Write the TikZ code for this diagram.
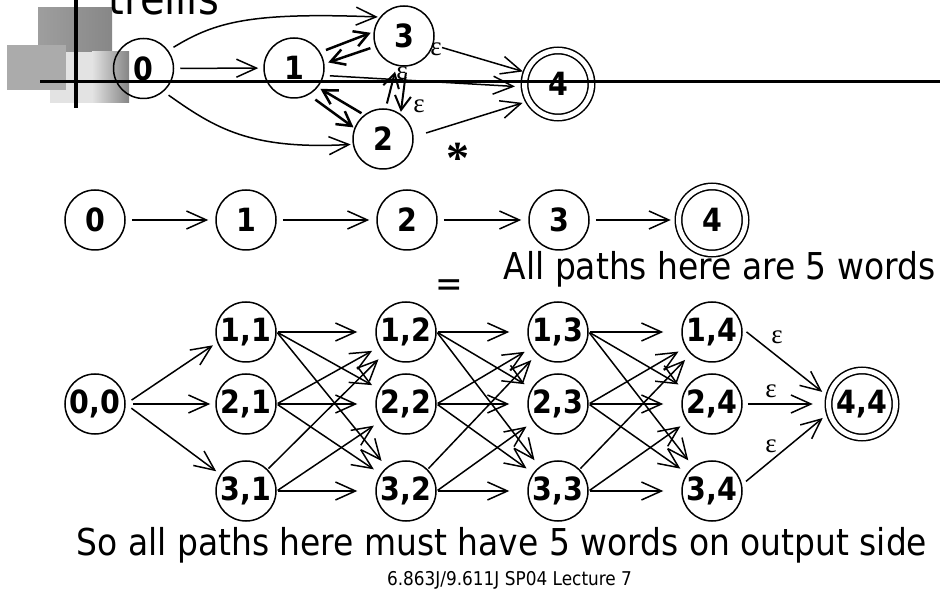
\documentclass[tikz,border=0pt]{standalone}
\usepackage{fontspec}
\setmainfont{DejaVu Sans}[FakeStretch=0.89]
\newfontfamily\epsfont{Liberation Serif}
\usetikzlibrary{arrows.meta}

\begin{document}
\begin{tikzpicture}[x=1pt, y=-1pt, line width=1.5pt,
    state/.style={draw, circle, minimum size=60pt, inner sep=0pt,
      font=\fontsize{32}{32}\selectfont\bfseries},
    final/.style={state, double, double distance=5pt, minimum size=67pt},
    edge/.style={-{Straight Barb[length=20pt, width=18pt]}, shorten <=6pt, shorten >=5pt},
    heavy/.style={edge, line width=2.5pt, -{Straight Barb[length=14pt, width=16pt]}},
    eps/.style={font=\epsfont\fontsize{27}{27}\selectfont, inner sep=0pt},
    words/.style={anchor=base west, inner sep=0pt, font=\fontsize{37}{37}\selectfont}]
  \useasboundingbox (0,0) rectangle (940,609);

  % corner squares and title
  \shade[left color=black!38, right color=black!47] (38,8) rectangle (112,58);
  \fill[black!11] (50,52) rectangle (92,103);
  \shade[left color=black!11, right color=black!48] (92,52) rectangle (129,103);
  \fill[black!33] (7,45) rectangle (66,90);
  \node[anchor=base west, inner sep=0pt, font=\fontsize{45}{45}\selectfont] (title) at (108,15) {trellis};

  % machine with loops
  \node[state] (a0) at (143.5,68.5) {0};
  \node[state] (a1) at (294,68) {1};
  \node[state] (a3) at (404,36) {3};
  \node[state] (a2) at (383,139) {2};
  \node[final] (a4) at (558,84) {4};

  \draw[edge] (a0) -- (a1);
  \draw[edge, shorten >=2pt] (a0.36) .. controls (215,22) and (250,12) .. (a3.142);
  \draw[edge, shorten >=2pt] (a0.-49) .. controls (215,128) and (250,150) .. (a2.190);
  \draw[heavy, shorten >=3pt] (a1.31) -- (a3.172);
  \draw[heavy, shorten <=5pt, shorten >=4pt] (a3.200) -- (a1.8);
  \draw[edge, shorten >=9pt] (a1.-14) -- (a4.185);
  \draw[heavy, shorten <=3pt, shorten >=3pt] (a2.128) -- (a1.-39);
  \draw[heavy, shorten <=8pt, shorten >=1pt] (a1.-61) -- (a2.159);
  \draw[heavy, line width=2pt, shorten <=5pt, shorten >=6pt] (a2.85) -- (a3.256);
  \draw[heavy, line width=2pt, shorten <=6pt, shorten >=2pt] (a3.-85) -- (a2.55);
  \draw[edge, shorten <=9pt, shorten >=3pt] (a3.-17) -- (a4.160);
  \draw[edge, shorten <=13pt, shorten >=6pt] (a2.4) -- (a4.210);

  \node[eps] (e34) at (436,49) {ε};
  \node[eps] (e23) at (402,73) {ε};
  \node[eps] (e32) at (419,106) {ε};
  \node[inner sep=0pt, font=\epsfont\bfseries\fontsize{46}{46}\selectfont] (star) at (458,158) {*};

  % straight chain
  \node[state] (b0) at (95,220) {0};
  \node[state] (b1) at (246,220) {1};
  \node[state] (b2) at (407,220) {2};
  \node[state] (b3) at (559,220) {3};
  \node[final] (b4) at (712,220) {4};
  \foreach \u/\v in {b0/b1,b1/b2,b2/b3,b3/b4}
    \draw[edge, shorten <=6pt, shorten >=7pt] (\u) -- (\v);

  \node[anchor=base, inner sep=0pt, font=\fontsize{37}{37}\selectfont] (same) at (449,297) {=};
  \node[words] (allpaths) at (503,280) {All paths here are 5 words};

  % trellis
  \node[state] (t00) at (95,404) {0,0};
  \foreach \c/\x in {1/246,2/406,3/558,4/712}
    \foreach \r/\y in {1/332,2/404,3/491}
      \node[state] (t\r\c) at (\x,\y) {\r,\c};
  \node[final] (t44) at (862,404) {4,4};

  \foreach \r/\a in {1/200,2/180,3/147}
    \draw[edge, shorten <=7pt, shorten >=5pt] (t00.east) -- (t\r1.\a);
  \foreach \c/\n in {1/2,2/3,3/4}
    \foreach \r in {1,2,3}
      \foreach \s in {1,2,3} {
        \pgfmathtruncatemacro\a{(\r-\s==2)*45}
        \pgfmathtruncatemacro\gap{8+10*(\r==\s)}
        \draw[edge, shorten <=1pt, shorten >=\gap pt] (t\r\c.\a) -- (t\s\n);
      }
  \draw[edge, shorten <=5pt, shorten >=8pt] (t14.6) -- (t44.168);
  \draw[edge, shorten <=5pt, shorten >=15pt] (t24) -- (t44);
  \draw[edge, shorten <=5pt, shorten >=8pt] (t34.12) -- (t44.195);
  \node[eps] (f1) at (777,337) {ε};
  \node[eps] (f2) at (771,391) {ε};
  \node[eps] (f3) at (771,446) {ε};

  \node[words] (output) at (76,555) {So all paths here must have 5 words on output side};
  \node[anchor=base, inner sep=0pt, font=\fontsize{19}{19}\selectfont] (footer) at (509.5,585) {6.863J/9.611J SP04 Lecture 7};

  % rules over everything
  \draw[line width=3.5pt] (76,0) -- (76,108);
  \draw[line width=3.5pt] (40,81.5) -- (940,81.5);
\end{tikzpicture}
\end{document}
